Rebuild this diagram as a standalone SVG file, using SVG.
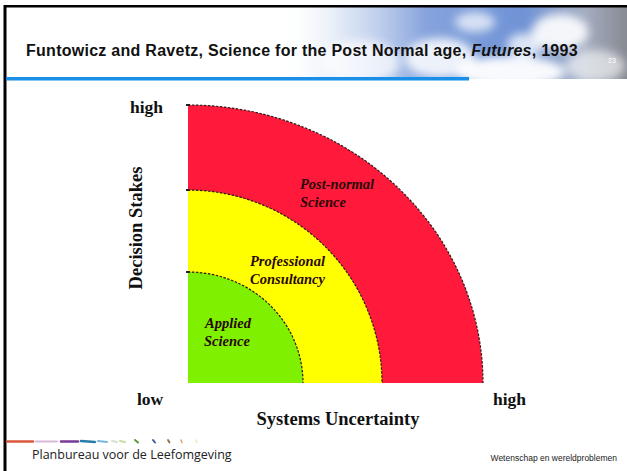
<svg xmlns="http://www.w3.org/2000/svg" width="627" height="471" viewBox="0 0 627 471">
<style>
.ax{font-family:"Liberation Serif","Times New Roman",serif;font-weight:bold;fill:#111}
.lbl{font-family:"Liberation Serif","Times New Roman",serif;font-weight:bold;font-style:italic;font-size:14.5px;fill:#2a0808}
.arc{fill:none;stroke:#2a1a1a;stroke-width:1.2;stroke-dasharray:2.5 1.5}
.tick{stroke:#222;stroke-width:2}
</style>
<defs>
<linearGradient id="sky" x1="0" y1="0" x2="1" y2="0">
<stop offset="0" stop-color="#ffffff" stop-opacity="0"/>
<stop offset="0.2" stop-color="#c9d7ef" stop-opacity="0.7"/>
<stop offset="0.42" stop-color="#86a3dc"/>
<stop offset="0.7" stop-color="#6f93d6"/>
<stop offset="0.88" stop-color="#a4adc0"/>
<stop offset="1" stop-color="#878a92"/>
</linearGradient>
<filter id="blur" x="-50%" y="-50%" width="200%" height="200%"><feGaussianBlur stdDeviation="5"/></filter>
<clipPath id="hdr"><rect x="6" y="7" width="621" height="72"/></clipPath>
</defs>
<rect width="627" height="471" fill="#fff"/>
<g id="header">
<g clip-path="url(#hdr)">
<rect x="280" y="7" width="347" height="72" fill="url(#sky)"/>
<g filter="url(#blur)" fill="#fff">
<ellipse cx="360" cy="62" rx="40" ry="22" opacity="0.7"/>
<ellipse cx="440" cy="58" rx="35" ry="20" opacity="0.85"/>
<ellipse cx="510" cy="72" rx="55" ry="16" opacity="0.95"/>
<ellipse cx="560" cy="32" rx="28" ry="18" opacity="0.9"/>
<ellipse cx="475" cy="22" rx="20" ry="10" opacity="0.7"/>
<ellipse cx="595" cy="66" rx="30" ry="16" opacity="0.6"/>
<ellipse cx="525" cy="45" rx="18" ry="12" opacity="0.75"/>
</g>
</g>
<rect x="4" y="5" width="623" height="2.5" fill="#000"/>
<rect x="3.5" y="5" width="3" height="466" fill="#000"/>
<rect x="6" y="77" width="463" height="3.5" fill="#1a8fe8"/>
<text x="26" y="56" font-family="'Liberation Sans',Arial,sans-serif" font-weight="bold" font-size="16" letter-spacing="0.27" fill="#111">Funtowicz and Ravetz, Science for the Post Normal age, <tspan font-style="italic">Futures</tspan>, 1993</text>
<text x="608" y="63" font-family="'Liberation Sans',Arial,sans-serif" font-size="7" fill="#fff">23</text>
</g>
<g id="post-normal">
<path d="M188,383 L188,105 A295,278 0 0 1 483,383 Z" fill="#ff1a3c"/>
<path class="arc" d="M188,105 A295,278 0 0 1 483,383"/>
<text class="lbl" x="300" y="189">Post-normal</text>
<text class="lbl" x="300" y="207">Science</text>
</g>
<g id="professional">
<path d="M188,383 L188,190 A194,193 0 0 1 382,383 Z" fill="#ffff00"/>
<path class="arc" d="M188,190 A194,193 0 0 1 382,383"/>
<text class="lbl" x="250" y="266">Professional</text>
<text class="lbl" x="250" y="284">Consultancy</text>
</g>
<g id="applied">
<path d="M188,383 L188,272 A115,111 0 0 1 303,383 Z" fill="#7ff000"/>
<path class="arc" d="M188,272 A115,111 0 0 1 303,383"/>
<text class="lbl" x="205" y="328">Applied</text>
<text class="lbl" x="204" y="346">Science</text>
</g>
<g id="connectors">
<line class="tick" x1="186" y1="105" x2="190" y2="105"/>
<line class="tick" x1="186" y1="190" x2="190" y2="190"/>
<line class="tick" x1="186" y1="272" x2="190" y2="272"/>
</g>
<g id="axes">
<text class="ax" x="130" y="113" font-size="17.5">high</text>
<text class="ax" transform="translate(142,228) rotate(-90)" text-anchor="middle" font-size="18.5">Decision Stakes</text>
<text class="ax" x="137" y="405" font-size="17.5">low</text>
<text class="ax" x="493" y="405" font-size="17.5">high</text>
<text class="ax" x="338" y="425" text-anchor="middle" font-size="18.5">Systems Uncertainty</text>
</g>
<g id="footer">
<g stroke-linecap="round">
<line x1="7" y1="441.5" x2="33" y2="441.5" stroke="#d9573f" stroke-width="2.5"/>
<line x1="36" y1="441.5" x2="57" y2="441.5" stroke="#d8b8d8" stroke-width="2"/>
<line x1="61" y1="441.5" x2="78" y2="441.5" stroke="#7a3a96" stroke-width="2.5"/>
<line x1="81" y1="441" x2="95" y2="442" stroke="#2a7da8" stroke-width="2.5"/>
<line x1="98" y1="441" x2="107" y2="442" stroke="#7ab8e0" stroke-width="2"/>
<line x1="112" y1="441" x2="117" y2="442" stroke="#cfe3d0" stroke-width="2"/>
<line x1="120" y1="441" x2="125" y2="442" stroke="#c8dca8" stroke-width="2"/>
<line x1="135" y1="440" x2="138" y2="442.5" stroke="#5a9a3a" stroke-width="2"/>
<line x1="153" y1="440" x2="155" y2="442.5" stroke="#3a5aa0" stroke-width="2"/>
<line x1="168" y1="440" x2="169.5" y2="442.5" stroke="#9a6a3a" stroke-width="1.8"/>
<line x1="181" y1="440" x2="182" y2="442.5" stroke="#e0a070" stroke-width="1.5"/>
<line x1="196" y1="440" x2="197" y2="442.5" stroke="#f0e6b0" stroke-width="1.5"/>
</g>
<text x="32" y="459" font-family="'Open Sans','Noto Sans',sans-serif" font-size="12.5" fill="#222">Planbureau voor de Leefomgeving</text>
<text x="617" y="461" text-anchor="end" font-family="'Liberation Sans',Arial,sans-serif" font-size="8.5" fill="#222">Wetenschap en wereldproblemen</text>
</g>
</svg>
